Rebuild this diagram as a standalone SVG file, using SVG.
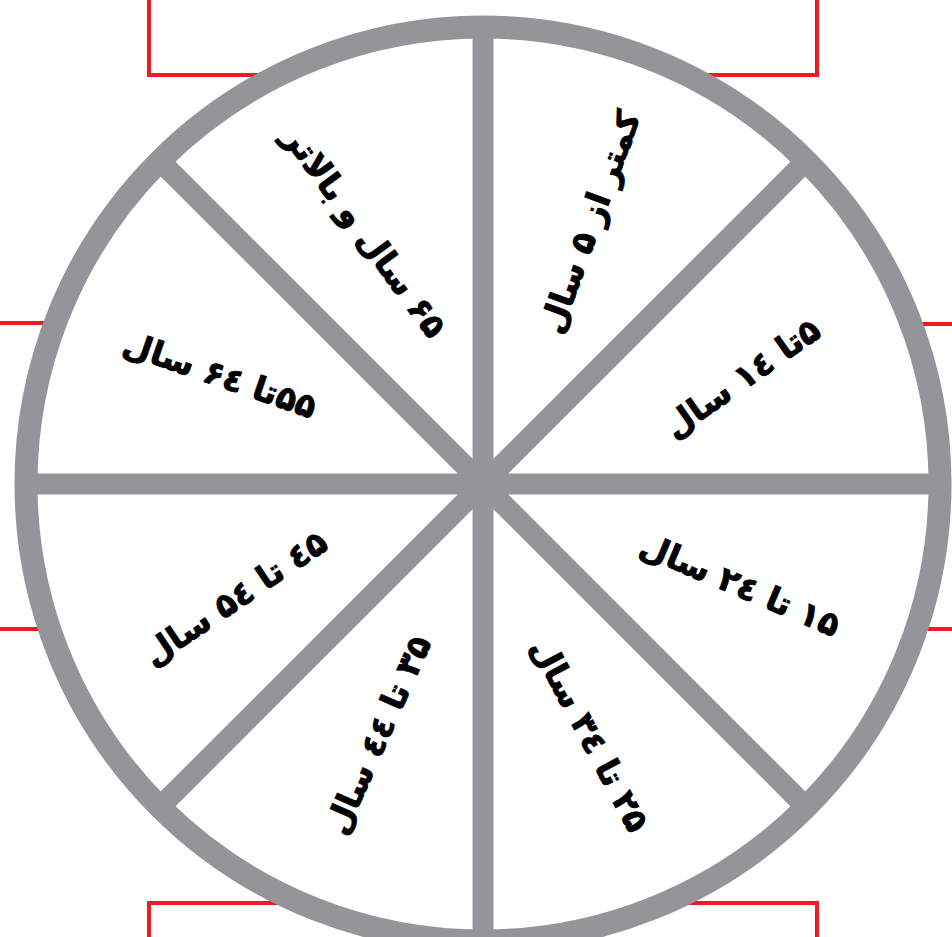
<svg xmlns="http://www.w3.org/2000/svg" width="952" height="937" viewBox="0 0 952 937">
<style>
.red{fill:none;stroke:#ed1c24;stroke-width:4}
.ring{fill:#fff;stroke:#939598;stroke-width:23}
.spoke{stroke:#939598;stroke-width:21}
.lbl{font-family:"DejaVu Sans",sans-serif;font-weight:bold;font-size:33px;fill:#000;stroke:#000;stroke-width:0.9;text-anchor:middle;dominant-baseline:central;direction:rtl;unicode-bidi:embed}
</style>
<rect width="952" height="937" fill="#fff"/>
<g id="frame">
<path class="red" d="M149,0 V75 H300"/>
<path class="red" d="M817,0 V75 H660"/>
<path class="red" d="M0,323 H100"/>
<path class="red" d="M0,629 H100"/>
<path class="red" d="M952,324 H850"/>
<path class="red" d="M952,629 H850"/>
<path class="red" d="M149,937 V903 H300"/>
<path class="red" d="M817,937 V903 H660"/>
</g>
<g id="wheel">
<circle class="ring" cx="483" cy="484" r="457"/>
</g>
<g id="connectors">
<line class="spoke" x1="483" y1="484" x2="483" y2="27"/>
<line class="spoke" x1="483" y1="484" x2="483" y2="941"/>
<line class="spoke" x1="483" y1="484" x2="26" y2="484"/>
<line class="spoke" x1="483" y1="484" x2="940" y2="484"/>
<line class="spoke" x1="483" y1="484" x2="806" y2="161"/>
<line class="spoke" x1="483" y1="484" x2="160" y2="807"/>
<line class="spoke" x1="483" y1="484" x2="160" y2="161"/>
<line class="spoke" x1="483" y1="484" x2="806" y2="807"/>
</g>
<g id="s1"><text class="lbl" direction="rtl" transform="translate(590,222) rotate(-70)">کمتر از ۵ سال</text></g>
<g id="s2"><text class="lbl" direction="rtl" transform="translate(742,378) rotate(-35)">۵تا ١٤ سال</text></g>
<g id="s3"><text class="lbl" direction="rtl" transform="translate(740,585) rotate(23)">۱۵ تا ۲٤ سال</text></g>
<g id="s4"><text class="lbl" direction="rtl" transform="translate(590,735) rotate(62)">۲۵ تا ۳٤ سال</text></g>
<g id="s5"><text class="lbl" direction="rtl" transform="translate(378,735) rotate(-66)">۳۵ تا ٤٤ سال</text></g>
<g id="s6"><text class="lbl" direction="rtl" transform="translate(235,598) rotate(-34)">٤۵ تا ۵٤ سال</text></g>
<g id="s7"><text class="lbl" direction="rtl" transform="translate(220,375) rotate(19)">۵۵تا ۶٤ سال</text></g>
<g id="s8"><text class="lbl" direction="rtl" transform="translate(365,232) rotate(54)">۶۵ سال و بالاتر</text></g>
</svg>
